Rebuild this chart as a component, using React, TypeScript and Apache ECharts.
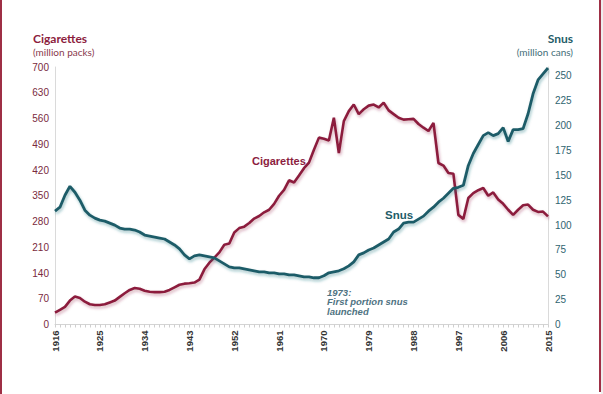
import React, { useEffect, useRef } from "react";
import * as echarts from "echarts";

const years: string[] = [];
for (let y = 1916; y <= 2015; y++) years.push(String(y));

const cigarettes = [
  32, 40, 48, 65, 76, 72, 62, 55, 53, 53,
  55, 60, 65, 75, 85, 94, 99, 97, 92, 89,
  88, 88, 89, 94, 101, 108, 111, 112, 114, 122,
  150, 168, 182, 196, 217, 220, 250, 262, 266, 276,
  288, 295, 305, 312, 328, 350, 366, 392, 386, 405,
  425, 440, 475, 508, 505, 500, 562, 466, 553, 580,
  598, 572, 585, 595, 598, 590, 603, 582, 572, 562,
  557, 558, 559, 545, 535, 526, 548, 439, 432, 412,
  410, 298, 287, 344, 357, 365, 371, 350, 359, 340,
  328, 312, 298, 312, 324, 326, 312, 306, 307, 294,
];

const snus = [
  114, 118, 130, 139, 133, 125, 115, 110, 107, 105,
  104, 102, 100, 97, 96, 96, 95, 93, 90, 89,
  88, 87, 86, 83, 80, 76, 70, 66, 69, 70,
  69, 68, 67, 64, 61, 58, 57, 57, 56, 55,
  54, 53, 53, 52, 52, 51, 51, 50, 50, 49,
  48, 48, 47, 47, 49, 52, 53, 54, 56, 59,
  63, 70, 72, 75, 77, 80, 83, 86, 93, 96,
  102, 103, 103, 106, 109, 114, 118, 123, 127, 132,
  137, 138, 140, 160, 172, 181, 190, 193, 190, 192,
  198, 184, 196, 196, 197, 212, 232, 246, 252, 258,
];

const CIG = "#8c1d3e";
const SNUS = "#1f5c68";

export default function App() {
  const ref = useRef<HTMLDivElement>(null);
  useEffect(() => {
    const chart = echarts.init(ref.current!, null, { renderer: "svg" });
    chart.setOption({
      animation: false,
      backgroundColor: "#ffffff",
      grid: { left: 55, right: 55, top: 67, bottom: 69.5 },
      xAxis: {
        type: "category",
        data: years,
        boundaryGap: false,
        axisLine: { lineStyle: { color: "#d4d4d4", width: 1 } },
        axisTick: { show: true, interval: 0, length: 3, lineStyle: { color: "#cfcfcf" } },
        axisLabel: {
          interval: 8,
          rotate: 90,
          margin: 6,
          fontSize: 9.5,
          fontWeight: "bold",
          color: "#333333",
          fontFamily: "Liberation Sans",
        },
        splitLine: { show: false },
      },
      yAxis: [
        {
          type: "value",
          min: 0,
          max: 700,
          interval: 70,
          position: "left",
          axisLine: { show: true, lineStyle: { color: "#dadada" } },
          axisTick: { show: false },
          splitLine: { show: false },
          axisLabel: { color: "#7a2a3d", fontSize: 10, margin: 6, fontFamily: "Liberation Sans" },
        },
        {
          type: "value",
          min: 0,
          max: 259,
          interval: 25,
          position: "right",
          axisLine: { show: true, lineStyle: { color: "#dadada" } },
          axisTick: { show: false },
          splitLine: { show: false },
          axisLabel: { color: "#2f6470", fontSize: 10, margin: 7, showMaxLabel: false, fontFamily: "Liberation Sans" },
        },
      ],
      series: [
        {
          name: "Cigarettes",
          type: "line",
          data: cigarettes,
          yAxisIndex: 0,
          showSymbol: false,
          lineStyle: {
            color: CIG,
            width: 2.6,
            shadowColor: "rgba(140,29,62,0.35)",
            shadowBlur: 3,
            shadowOffsetX: 1,
            shadowOffsetY: 2,
          },
          itemStyle: { color: CIG },
        },
        {
          name: "Snus",
          type: "line",
          data: snus,
          yAxisIndex: 1,
          showSymbol: false,
          lineStyle: {
            color: SNUS,
            width: 2.8,
            shadowColor: "rgba(31,110,120,0.4)",
            shadowBlur: 3,
            shadowOffsetX: 1,
            shadowOffsetY: 2,
          },
          itemStyle: { color: SNUS },
        },
      ],
      graphic: [
        { type: "rect", shape: { x: 0, y: 0, width: 2, height: 394 }, style: { fill: "#9e2f45" } },
        { type: "rect", shape: { x: 599, y: 0, width: 2, height: 392 }, style: { fill: "#9e2f45" } },
        { type: "rect", shape: { x: 601, y: 0, width: 2, height: 394 }, style: { fill: "#eeeeee" } },
        {
          type: "text", left: 33, top: 32,
          style: { text: "Cigarettes", fill: CIG, font: "bold 12px Lato" },
        },
        {
          type: "text", left: 33, top: 47,
          style: { text: "(million packs)", fill: "#8a3a4e", font: "10px Lato" },
        },
        {
          type: "text", right: 30, top: 32,
          style: { text: "Snus", fill: SNUS, font: "bold 12px Lato" },
        },
        {
          type: "text", right: 30, top: 47,
          style: { text: "(million cans)", fill: "#3f6e78", font: "10px Lato" },
        },
        {
          type: "text", left: 252, top: 155,
          style: { text: "Cigarettes", fill: CIG, font: "bold 11px Liberation Sans" },
        },
        {
          type: "text", left: 385, top: 209,
          style: { text: "Snus", fill: SNUS, font: "bold 11.5px Liberation Sans" },
        },
        {
          type: "text", left: 327, top: 287,
          style: {
            text: "1973:\nFirst portion snus\nlaunched",
            fill: "#4f7382",
            font: "italic bold 9.5px Liberation Sans",
            lineHeight: 9.7,
          },
        },
      ],
    });
    return () => chart.dispose();
  }, []);
  return (
    <div
      ref={ref}
      style={{ position: "fixed", left: 0, top: 0, width: 603, height: 394 }}
    />
  );
}
